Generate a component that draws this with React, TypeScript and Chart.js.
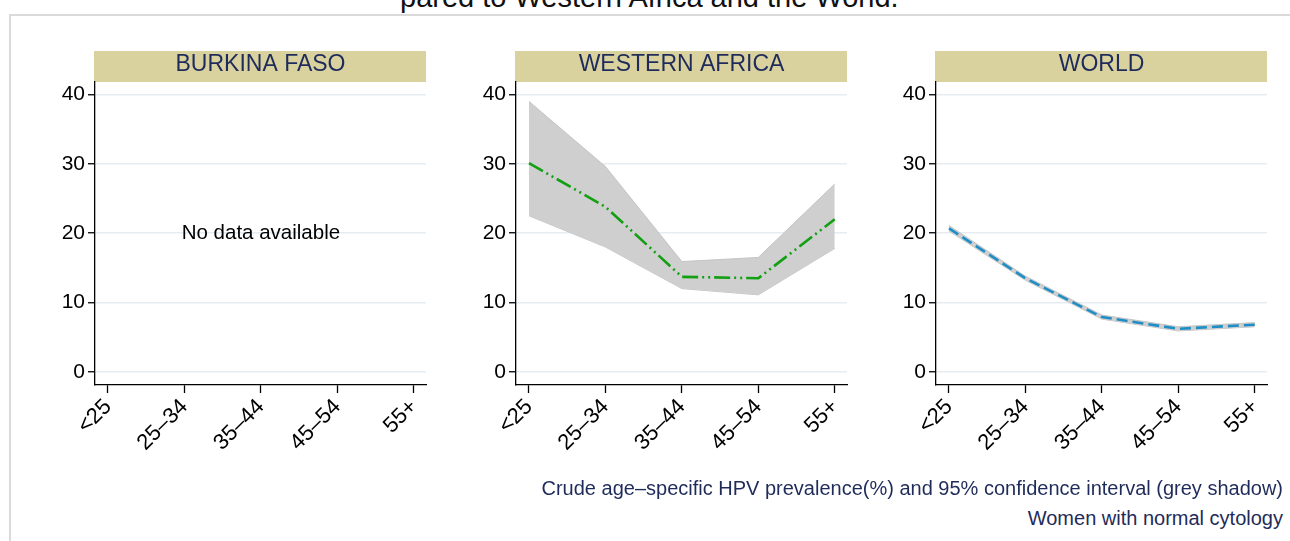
import React, { useEffect, useRef } from "react";
import { Chart, registerables } from "chart.js";

Chart.register(...registerables);

// ---------- data ----------
const ageGroups = ["<25", "25–34", "35–44", "45–54", "55+"];
const yTickValues = [0, 10, 20, 30, 40];
const panelTitles = ["BURKINA FASO", "WESTERN AFRICA", "WORLD"];

const westAfricaPrev = [30.1, 23.8, 13.7, 13.5, 22.0];
const westAfricaUpper = [39.0, 29.6, 15.9, 16.5, 27.1];
const westAfricaLower = [22.5, 18.0, 12.0, 11.1, 17.8];

const worldPrev = [20.7, 13.5, 7.9, 6.2, 6.8];
const worldUpper = [21.1, 13.8, 8.2, 6.5, 7.1];
const worldLower = [20.3, 13.2, 7.6, 5.9, 6.5];

const titleText = "pared to Western Africa and the World.";
const noDataText = "No data available";
const footerLine1 = "Crude age–specific HPV prevalence(%) and 95% confidence interval (grey shadow)";
const footerLine2 = "Women with normal cytology";

// ---------- styles ----------
const FONT = '"Liberation Sans", Arial, Helvetica, sans-serif';
const HEADER_BG = "#d9d29f";
const NAVY = "#1f2b5a";
const GREEN = "#12a012";
const BLUE = "#1f8ec6";
const BAND = "#cfcfcf";
const BAND_EDGE = "#c4c4c4";
const GRID = "#e6edf2";

const pts = (arr: number[]) => arr.map((v, i) => ({ x: i, y: v }));

function bandDatasets(upper: number[], lower: number[]) {
  return [
    {
      data: pts(upper),
      borderColor: BAND_EDGE,
      borderWidth: 1,
      backgroundColor: BAND,
      fill: "+1",
      pointRadius: 0,
      tension: 0,
    },
    {
      data: pts(lower),
      borderColor: BAND_EDGE,
      borderWidth: 1,
      fill: false,
      pointRadius: 0,
      tension: 0,
    },
  ];
}

const PLOT_W = 331;
const CANVAS_LEFT_PAD = 70;
const CANVAS_W = CANVAS_LEFT_PAD + PLOT_W + 20;
const CANVAS_H = 440;
const CANVAS_TOP = 40;

type PanelProps = {
  plotLeft: number;
  title: string;
  datasets: any[];
  noData?: boolean;
};

function Panel({ plotLeft, title, datasets, noData }: PanelProps) {
  const ref = useRef<HTMLCanvasElement>(null);
  useEffect(() => {
    const canvas = ref.current!;
    const headerPlugin = {
      id: "panelHeader",
      beforeDraw(chart: any) {
        const { ctx, chartArea: a } = chart;
        ctx.save();
        ctx.fillStyle = HEADER_BG;
        ctx.fillRect(a.left - 1, a.top - 31, a.right - a.left + 1, 31);
        ctx.fillStyle = NAVY;
        ctx.font = `23px ${FONT}`;
        ctx.textAlign = "center";
        ctx.textBaseline = "middle";
        ctx.fillText(title, (a.left + a.right) / 2, a.top - 17);
        ctx.restore();
      },
      afterDraw(chart: any) {
        if (!noData) return;
        const { ctx } = chart;
        ctx.save();
        ctx.fillStyle = "#000";
        ctx.font = `20.5px ${FONT}`;
        ctx.textAlign = "center";
        ctx.textBaseline = "middle";
        ctx.fillText(
          noDataText,
          chart.scales.x.getPixelForValue(2),
          chart.scales.y.getPixelForValue(20)
        );
        ctx.restore();
      },
    };
    const chart = new Chart(canvas, {
      type: "line",
      data: { datasets },
      options: {
        animation: false,
        responsive: false,
        maintainAspectRatio: false,
        layout: { padding: { top: 42, right: 20, left: 0, bottom: 0 } },
        plugins: {
          legend: { display: false },
          tooltip: { enabled: false },
          title: { display: false },
        },
        scales: {
          x: {
            type: "linear",
            min: -0.17,
            max: 4.16,
            afterBuildTicks: (s: any) => {
              s.ticks = ageGroups.map((_, i) => ({ value: i }));
            },
            afterFit: (s: any) => {
              s.height = CANVAS_H - (385 - CANVAS_TOP);
            },
            grid: {
              drawOnChartArea: false,
              drawTicks: true,
              tickLength: 8,
              tickColor: "#000",
              tickWidth: 1.3,
            },
            border: { color: "#000", width: 1.3 },
            ticks: {
              autoSkip: false,
              maxRotation: 45,
              minRotation: 45,
              padding: 1,
              color: "#000",
              font: { family: FONT, size: 22 },
              callback: (_v: any, i: number) => ageGroups[i],
            },
          },
          y: {
            type: "linear",
            min: -1.9,
            max: 41.8,
            afterBuildTicks: (s: any) => {
              s.ticks = yTickValues.map((v) => ({ value: v }));
            },
            afterFit: (s: any) => {
              s.width = CANVAS_LEFT_PAD;
            },
            grid: {
              color: GRID,
              lineWidth: 1.5,
              drawTicks: true,
              tickLength: 7,
              tickColor: "#000",
              tickWidth: 1.3,
            },
            border: { color: "#000", width: 1.3 },
            ticks: {
              padding: 3,
              color: "#000",
              font: { family: FONT, size: 21 },
            },
          },
        },
      } as any,
      plugins: [headerPlugin],
    });
    return () => chart.destroy();
  }, []);
  return (
    <canvas
      ref={ref}
      width={CANVAS_W}
      height={CANVAS_H}
      style={{
        position: "absolute",
        left: plotLeft - CANVAS_LEFT_PAD,
        top: CANVAS_TOP,
        width: CANVAS_W,
        height: CANVAS_H,
        display: "block",
      }}
    />
  );
}

export default function App() {
  const westDatasets = [
    {
      data: pts(westAfricaPrev),
      borderColor: GREEN,
      borderWidth: 2.6,
      borderDash: [16, 4, 2, 4, 2, 4],
      pointRadius: 0,
      fill: false,
      tension: 0,
    },
    ...bandDatasets(westAfricaUpper, westAfricaLower),
  ];
  const worldDatasets = [
    {
      data: pts(worldPrev),
      borderColor: BLUE,
      borderWidth: 2.6,
      borderDash: [11, 5],
      pointRadius: 0,
      fill: false,
      tension: 0,
    },
    ...bandDatasets(worldUpper, worldLower),
  ];

  const footerStyle: React.CSSProperties = {
    position: "absolute",
    left: 0,
    width: 1283,
    textAlign: "right",
    fontSize: 20,
    lineHeight: "20px",
    whiteSpace: "nowrap",
    color: NAVY,
  };

  return (
    <div
      style={{
        position: "absolute",
        left: 0,
        top: 0,
        width: 1290,
        height: 541,
        overflow: "hidden",
        background: "#fff",
        fontFamily: FONT,
      }}
    >
      <div
        style={{
          position: "absolute",
          left: 400,
          top: -17,
          fontSize: 29,
          lineHeight: "29px",
          whiteSpace: "nowrap",
          color: "#111",
        }}
      >
        {titleText}
      </div>
      <div
        style={{
          position: "absolute",
          left: 9,
          top: 14,
          width: 1400,
          height: 600,
          borderLeft: "2px solid #dadada",
          borderTop: "2px solid #dadada",
        }}
      />
      <Panel plotLeft={95} title={panelTitles[0]} datasets={[]} noData />
      <Panel plotLeft={516} title={panelTitles[1]} datasets={westDatasets} />
      <Panel plotLeft={936} title={panelTitles[2]} datasets={worldDatasets} />
      <div style={{ ...footerStyle, top: 478 }}>{footerLine1}</div>
      <div style={{ ...footerStyle, top: 508 }}>{footerLine2}</div>
    </div>
  );
}
